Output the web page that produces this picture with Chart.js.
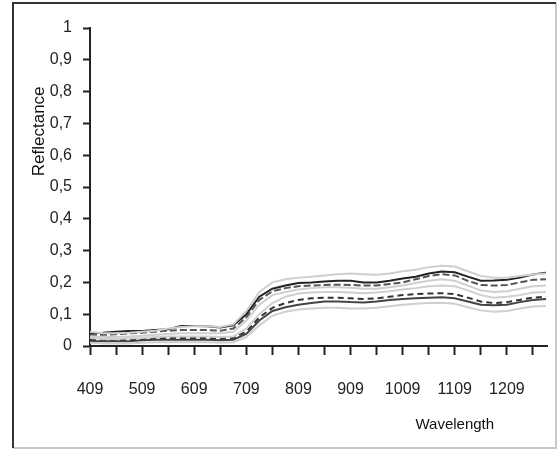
<!DOCTYPE html>
<html>
<head>
<meta charset="utf-8">
<script src="https://cdn.jsdelivr.net/npm/chart.js@4/dist/chart.umd.min.js"></script>
<style>
  body { margin: 0; background: #fff; }
  #wrap { width: 558px; height: 451px; }
</style>
</head>
<body>
<div id="wrap"><canvas id="myChart" width="558" height="451"></canvas></div>
<script>
// wavelength (nm)
var wavelengths = [409, 434, 459, 484, 509, 534, 559, 584, 609, 634, 659, 684,
    709, 734, 759, 784, 809, 834, 859, 884, 909, 934, 959, 984,
    1009, 1034, 1059, 1084, 1109, 1134, 1159, 1184, 1209, 1234, 1259, 1284];

// upper group
var upperLight1 = [0.045, 0.04, 0.04, 0.042, 0.045, 0.048, 0.055, 0.06, 0.062, 0.062, 0.06, 0.068,
    0.11, 0.17, 0.2, 0.21, 0.215, 0.218, 0.222, 0.226, 0.228, 0.226, 0.224, 0.228,
    0.235, 0.24, 0.248, 0.252, 0.25, 0.235, 0.22, 0.215, 0.215, 0.22, 0.225, 0.228];
var upperDark1 = [0.04, 0.042, 0.045, 0.047, 0.047, 0.05, 0.053, 0.063, 0.063, 0.062, 0.058, 0.065,
    0.1, 0.155, 0.18, 0.19, 0.198, 0.2, 0.203, 0.205, 0.205, 0.2, 0.2, 0.205,
    0.212, 0.218, 0.228, 0.234, 0.232, 0.218, 0.205, 0.206, 0.208, 0.215, 0.225, 0.23];
var upperDark2 = [0.035, 0.035, 0.037, 0.04, 0.042, 0.045, 0.048, 0.05, 0.05, 0.05, 0.048, 0.055,
    0.09, 0.145, 0.172, 0.182, 0.188, 0.19, 0.192, 0.193, 0.192, 0.19, 0.19, 0.195,
    0.2, 0.21, 0.22, 0.226, 0.222, 0.205, 0.192, 0.19, 0.192, 0.2, 0.208, 0.21];
var upperLight2 = [0.03, 0.028, 0.028, 0.03, 0.032, 0.035, 0.038, 0.04, 0.04, 0.04, 0.04, 0.045,
    0.08, 0.13, 0.16, 0.17, 0.178, 0.182, 0.185, 0.185, 0.183, 0.18, 0.18, 0.185,
    0.19, 0.198, 0.205, 0.21, 0.205, 0.19, 0.175, 0.17, 0.172, 0.18, 0.188, 0.19];

// lower group
var lowerLight1 = [0.025, 0.022, 0.022, 0.024, 0.025, 0.028, 0.03, 0.03, 0.03, 0.03, 0.028, 0.03,
    0.055, 0.1, 0.135, 0.155, 0.165, 0.168, 0.17, 0.17, 0.168, 0.166, 0.168, 0.172,
    0.178, 0.182, 0.188, 0.19, 0.188, 0.175, 0.16, 0.152, 0.155, 0.16, 0.168, 0.17];
var lowerDark1 = [0.02, 0.02, 0.02, 0.02, 0.022, 0.024, 0.025, 0.025, 0.025, 0.025, 0.023, 0.025,
    0.045, 0.09, 0.12, 0.135, 0.145, 0.15, 0.152, 0.152, 0.15, 0.148, 0.15, 0.155,
    0.16, 0.163, 0.165, 0.166, 0.163, 0.152, 0.14, 0.135, 0.138, 0.145, 0.152, 0.155];
var lowerDark2 = [0.015, 0.015, 0.015, 0.015, 0.018, 0.02, 0.02, 0.02, 0.02, 0.02, 0.018, 0.02,
    0.038, 0.08, 0.11, 0.122, 0.13, 0.135, 0.14, 0.14, 0.138, 0.137, 0.14, 0.145,
    0.148, 0.15, 0.152, 0.153, 0.15, 0.14, 0.13, 0.128, 0.13, 0.138, 0.145, 0.148];
var lowerLight2 = [0.01, 0.008, 0.008, 0.008, 0.01, 0.012, 0.012, 0.012, 0.012, 0.012, 0.01, 0.012,
    0.028, 0.065, 0.095, 0.108, 0.115, 0.118, 0.12, 0.12, 0.118, 0.118, 0.12, 0.125,
    0.13, 0.133, 0.135, 0.136, 0.133, 0.122, 0.112, 0.108, 0.11, 0.118, 0.124, 0.126];

// ticks
var xTicks = [409, 459, 509, 559, 609, 659, 709, 759, 809, 859, 909, 959, 1009, 1059, 1109, 1159, 1209, 1259];
var yTicks = [0, 0.1, 0.2, 0.3, 0.4, 0.5, 0.6, 0.7, 0.8, 0.9, 1];
var yLabels = ['0', '0,1', '0,2', '0,3', '0,4', '0,5', '0,6', '0,7', '0,8', '0,9', '1'];

function pts(arr) {
    return arr.map(function (v, i) { return {x: wavelengths[i], y: v}; });
}

function line(arr, color, dash) {
    return {
        data: pts(arr),
        borderColor: color,
        borderWidth: 2,
        borderDash: dash || [],
        pointRadius: 0,
        tension: 0,
        fill: false
    };
}

var tickFont = {family: "'Liberation Sans', Arial, sans-serif", size: 16};

// frame + axis titles
var decor = {
    id: 'decor',
    afterDraw: function (chart) {
        var c = chart.ctx;
        var xs = chart.scales.x, ys = chart.scales.y;
        c.save();
        c.lineWidth = 2;
        c.strokeStyle = '#c8c8c8';
        c.beginPath();
        c.moveTo(13, 448); c.lineTo(556, 448); c.lineTo(556, 3);
        c.stroke();
        c.strokeStyle = '#333';
        c.beginPath();
        c.moveTo(13, 448); c.lineTo(13, 3); c.lineTo(556, 3);
        c.stroke();

        c.fillStyle = '#111';
        c.font = "15px 'Liberation Sans', Arial, sans-serif";
        c.textAlign = 'center';
        c.textBaseline = 'middle';
        c.fillText('Wavelength', xs.getPixelForValue(1109), 425);

        c.translate(39, ys.getPixelForValue(0.675));
        c.rotate(-Math.PI / 2);
        c.font = "17px 'Liberation Sans', Arial, sans-serif";
        c.fillText('Reflectance', 0, 0);
        c.restore();
    }
};

var ctx = document.getElementById('myChart').getContext('2d');
var myChart = new Chart(ctx, {
    type: 'line',
    data: {
        datasets: [
            line(upperLight1, '#cfcfcf'),
            line(upperLight2, '#cfcfcf'),
            line(lowerLight1, '#cfcfcf'),
            line(lowerLight2, '#cfcfcf'),
            line(upperDark2, '#555', [7, 3]),
            line(upperDark1, '#222'),
            line(lowerDark1, '#333', [6, 4]),
            line(lowerDark2, '#444')
        ]
    },
    options: {
        responsive: false,
        animation: false,
        devicePixelRatio: 1,
        layout: {padding: {left: 0, top: 28, right: 2, bottom: 0}},
        plugins: {legend: {display: false}, tooltip: {enabled: false}},
        scales: {
            x: {
                type: 'linear',
                min: 409,
                max: 1287,
                afterBuildTicks: function (s) {
                    s.ticks = xTicks.map(function (v) { return {value: v}; });
                },
                afterFit: function (s) { s.height = 105; },
                grid: {drawOnChartArea: false, tickLength: 9, tickColor: '#222', tickWidth: 2},
                border: {color: '#222', width: 2},
                ticks: {
                    autoSkip: false,
                    maxRotation: 0,
                    padding: 25,
                    color: '#222',
                    font: tickFont,
                    callback: function (v) { return (v - 409) % 100 === 0 ? String(v) : ''; }
                }
            },
            y: {
                min: 0,
                max: 1,
                afterBuildTicks: function (s) {
                    s.ticks = yTicks.map(function (v) { return {value: v}; });
                },
                afterFit: function (s) { s.width = 90; },
                grid: {drawOnChartArea: false, tickLength: 7, tickColor: '#222', tickWidth: 2},
                border: {color: '#222', width: 2},
                ticks: {
                    padding: 11,
                    color: '#222',
                    font: tickFont,
                    callback: function (v) { return yLabels[yTicks.indexOf(v)]; }
                }
            }
        }
    },
    plugins: [decor]
});
</script>
</body>
</html>
